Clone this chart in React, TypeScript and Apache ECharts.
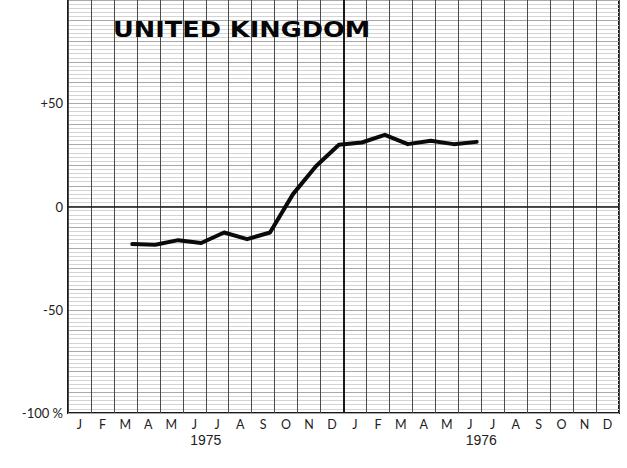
import React, { useEffect, useRef } from "react";
import * as echarts from "echarts";

// Month labels (two years)
const monthLabels = [
  "J", "F", "M", "A", "M", "J", "J", "A", "S", "O", "N", "D",
  "J", "F", "M", "A", "M", "J", "J", "A", "S", "O", "N", "D",
];
const yearLabels = ["1975", "1976"];

// Observation months (index from Jan 1975) and values in %
const obsMonthIndex = [2, 3, 4, 5, 6, 7, 8, 9, 10, 11, 12, 13, 14, 15, 16, 17];
const obsValues = [-18.2, -18.5, -16.3, -17.7, -12.6, -15.8, -12.6, 6, 19.5, 29.9, 31.0, 34.7, 30.2, 31.8, 30.2, 31.3];
// Observations taken late in each month
const obsFractionOfMonth = 0.8;

// Y tick labels
const yLabelValues = [50, 0, -50, -100];
const yLabelTexts = ["+50", "0", "-50", "-100 %"];

const title = "UNITED KINGDOM";

export default function App() {
  const ref = useRef<HTMLDivElement>(null);

  useEffect(() => {
    document.body.style.margin = "0";
    if (!ref.current) return;
    const chart = echarts.init(ref.current, null, { renderer: "svg" });

    const seriesData = obsMonthIndex.map((m, i) => [m + obsFractionOfMonth, obsValues[i]]);

    chart.setOption({
      animation: false,
      backgroundColor: "#ffffff",
      grid: {
        left: 68,
        right: 8,
        top: 0,
        bottom: 55,
        show: true,
        borderColor: "#1a1a1a",
        borderWidth: 2,
        backgroundColor: "#ffffff",
      },
      graphic: [
        {
          type: "text",
          x: 113,
          y: 19,
          scaleX: 1.22,
          z: 100,
          style: {
            text: title,
            fontFamily: "DejaVu Sans",
            fontWeight: "bold",
            fontSize: 21,
            fill: "#050505",
            textVerticalAlign: "top",
          },
        },
      ],
      xAxis: [
        {
          type: "category",
          position: "bottom",
          data: monthLabels,
          boundaryGap: true,
          axisLine: { show: false },
          axisTick: { show: false },
          axisLabel: {
            interval: 0,
            margin: 5,
            fontFamily: "Lato",
            fontSize: 12.5,
            color: "#222222",
          },
          splitLine: {
            show: true,
            interval: 0,
            lineStyle: { color: "#4a4a4a", width: 1 },
          },
        },
        {
          type: "value",
          min: 0,
          max: 24,
          show: false,
          position: "top",
          splitLine: { show: false },
        },
        {
          type: "category",
          position: "bottom",
          data: yearLabels,
          offset: 17,
          axisLine: { show: false },
          axisTick: { show: false },
          splitLine: { show: false },
          axisLabel: {
            margin: 3,
            fontFamily: "Liberation Sans",
            fontSize: 14,
            color: "#222222",
          },
        },
      ],
      yAxis: {
        type: "value",
        min: -100,
        max: 100,
        interval: 10,
        axisLine: { show: false },
        axisTick: { show: false },
        axisLabel: {
          margin: 5,
          fontFamily: "Lato",
          fontSize: 13,
          color: "#222222",
          padding: [0, 0, 7, 0],
          showMaxLabel: true,
          formatter: (v: number) => {
            const i = yLabelValues.indexOf(v);
            return i >= 0 ? yLabelTexts[i] : "";
          },
        },
        splitLine: { show: true, lineStyle: { color: "#a8a8a8", width: 1 } },
        minorTick: { show: false, splitNumber: 5 },
        minorSplitLine: { show: true, lineStyle: { color: "#d4d4d4", width: 1 } },
      },
      series: [
        {
          type: "line",
          xAxisIndex: 1,
          yAxisIndex: 0,
          data: seriesData,
          symbol: "none",
          lineStyle: { color: "#0a0a0a", width: 4, join: "round", cap: "round" },
          z: 5,
          markLine: {
            silent: true,
            symbol: "none",
            label: { show: false },
            data: [
              { yAxis: 0, lineStyle: { color: "#1a1a1a", width: 1.5, type: "solid" } },
              { xAxis: 12, lineStyle: { color: "#1a1a1a", width: 2, type: "solid" } },
            ],
          },
        },
      ],
    });

    return () => chart.dispose();
  }, []);

  return <div ref={ref} style={{ width: 627, height: 468 }} />;
}
